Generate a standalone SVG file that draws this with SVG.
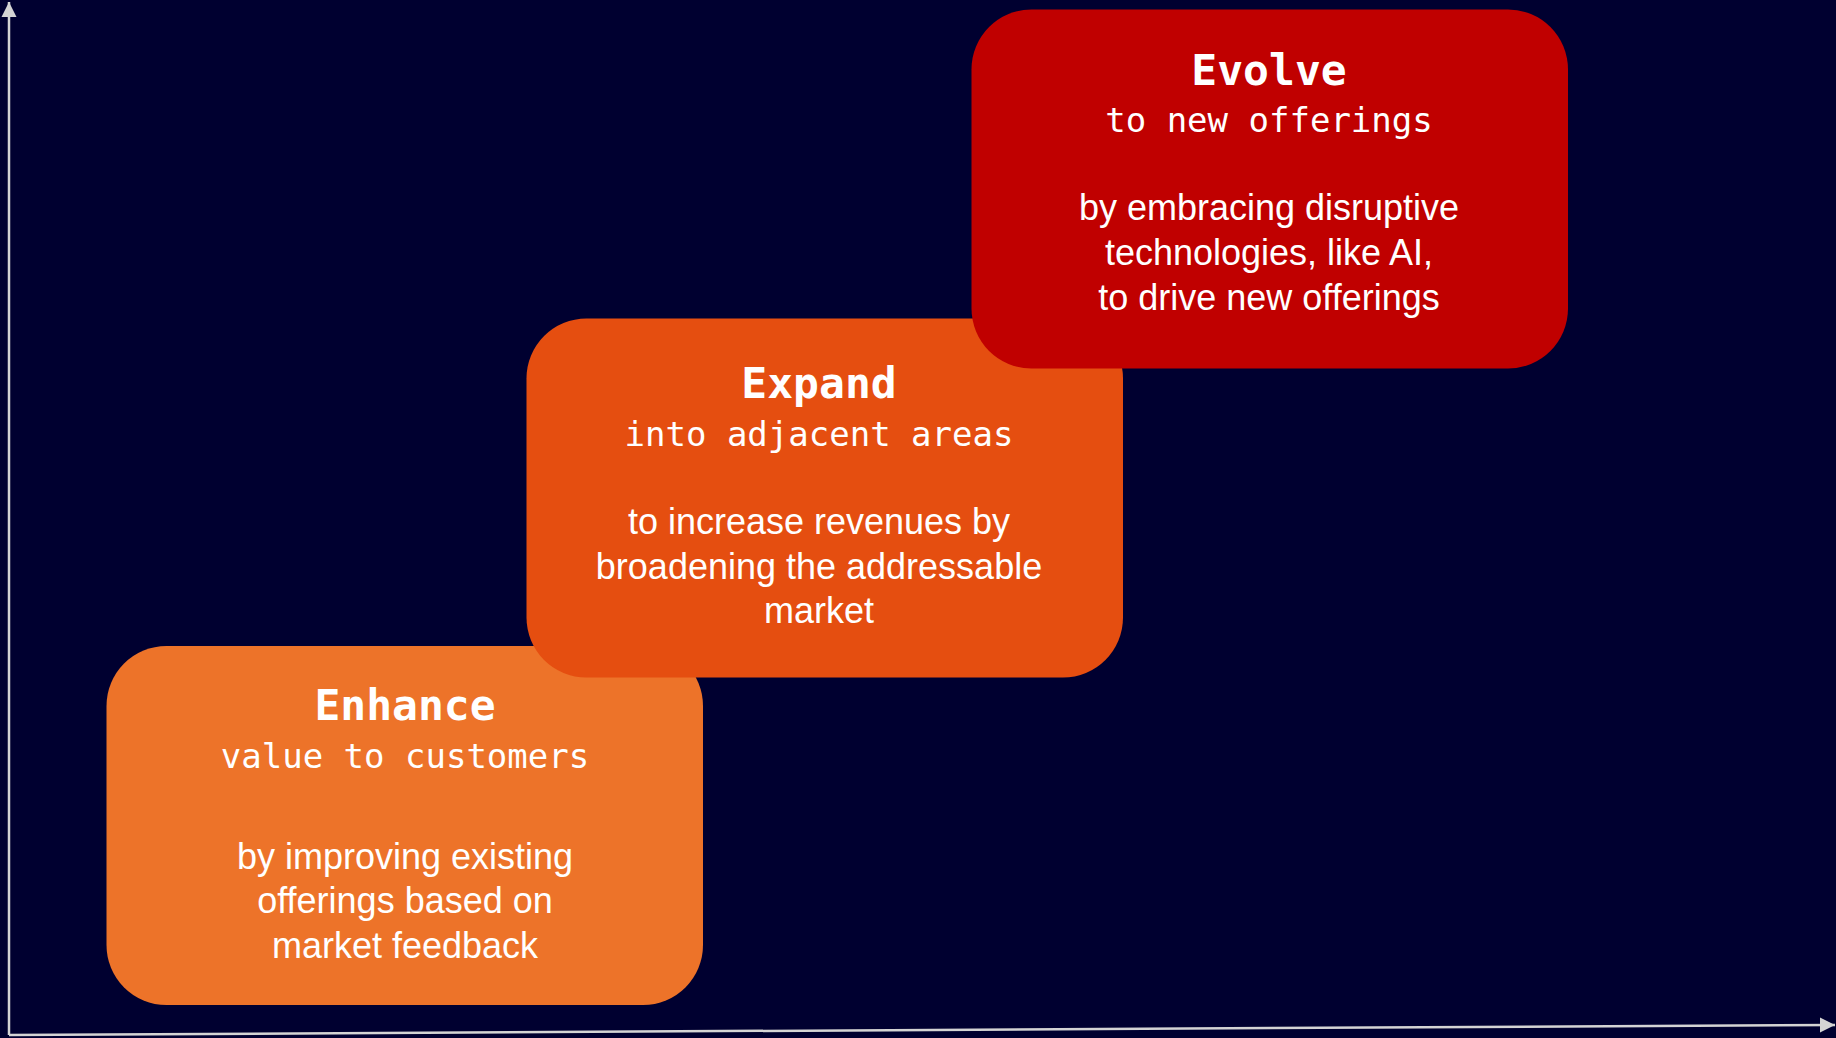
<svg xmlns="http://www.w3.org/2000/svg" width="1836" height="1038" viewBox="0 0 1836 1038">
<style>
.t{font-family:"DejaVu Sans Mono","Liberation Mono",monospace;font-weight:bold;font-size:43px;fill:#fff;text-anchor:middle}
.s{font-family:"DejaVu Sans Mono","Liberation Mono",monospace;font-size:34px;fill:#fff;text-anchor:middle}
.b{font-family:"Liberation Sans",Arial,sans-serif;font-size:36px;fill:#fff;text-anchor:middle}
.ax{stroke:#d4d4d4;stroke-width:2.5;fill:none}
</style>
<defs>
<marker id="ah" markerUnits="userSpaceOnUse" markerWidth="16" markerHeight="16" viewBox="0 0 16 16" refX="15" refY="8" orient="auto">
<path d="M0,0.5 L15,8 L0,15.5 Z" fill="#d4d4d4"/>
</marker>
</defs>
<rect width="1836" height="1038" fill="#000030"/>
<g id="connectors">
<line class="ax" x1="9" y1="1035" x2="9" y2="2" marker-end="url(#ah)"/>
<line class="ax" x1="9" y1="1035" x2="1835" y2="1025" marker-end="url(#ah)"/>
</g>
<g id="enhance">
<rect x="106.5" y="646" width="596.5" height="359" rx="60" ry="60" fill="#ED7329"/>
<text class="t" x="405" y="720">Enhance</text>
<text class="s" x="405" y="768">value to customers</text>
<text class="b" x="405" y="869">by improving existing</text>
<text class="b" x="405" y="913">offerings based on</text>
<text class="b" x="405" y="958">market feedback</text>
</g>
<g id="expand">
<rect x="526.5" y="318.5" width="596.5" height="359" rx="60" ry="60" fill="#E54E10"/>
<text class="t" x="819" y="398">Expand</text>
<text class="s" x="819" y="446">into adjacent areas</text>
<text class="b" x="819" y="534">to increase revenues by</text>
<text class="b" x="819" y="579">broadening the addressable</text>
<text class="b" x="819" y="623">market</text>
</g>
<g id="evolve">
<rect x="971.5" y="9.5" width="596.5" height="359" rx="60" ry="60" fill="#C00000"/>
<text class="t" x="1269" y="85">Evolve</text>
<text class="s" x="1269" y="132">to new offerings</text>
<text class="b" x="1269" y="220">by embracing disruptive</text>
<text class="b" x="1269" y="265">technologies, like AI,</text>
<text class="b" x="1269" y="310">to drive new offerings</text>
</g>
</svg>
